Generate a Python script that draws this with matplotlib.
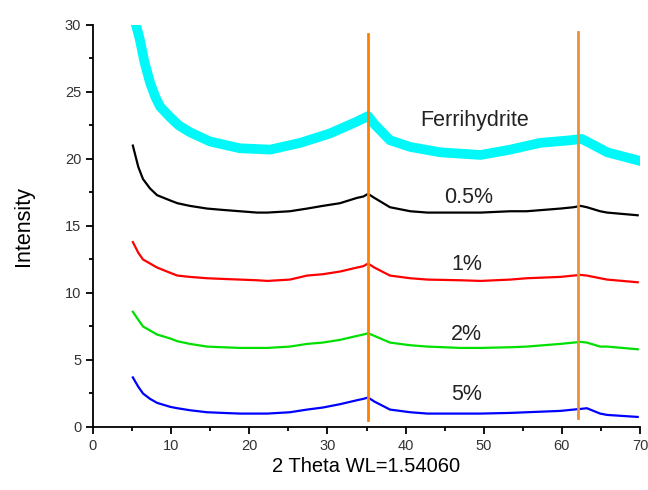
import numpy as np
import matplotlib
matplotlib.use("Agg")
import matplotlib.pyplot as plt
from matplotlib.ticker import MultipleLocator

plt.rcParams['font.family'] = ['Liberation Sans', 'DejaVu Sans']

# ---- datos (2 theta, intensidad)
theta_ferri = [5.5, 6.0, 6.6, 7.3, 8.0, 8.6, 9.9, 11.0, 12.4, 15.0, 18.8, 22.7, 26.5, 30.3,
               33.8, 35.2, 36.0, 38.0, 40.6, 44.4, 49.6, 53.4, 57.2, 61.1, 62.5, 63.2,
               65.8, 69.7]
ferri = [30.0, 28.9, 27.2, 25.7, 24.6, 23.9, 23.1, 22.5, 22.0, 21.3, 20.8, 20.7, 21.2, 21.9,
         22.8, 23.2, 22.6, 21.4, 20.9, 20.5, 20.3, 20.7, 21.2, 21.4, 21.5, 21.3,
         20.5, 19.9]

theta = [5.1, 5.8, 6.4, 7.3, 8.2, 9.9, 10.8, 12.4, 14.6, 16.6, 18.8, 21.0, 22.3, 25.2,
         27.4, 29.4, 31.6, 33.8, 34.6, 35.2, 36.0, 38.0, 40.6, 42.8, 47.0, 49.6,
         53.4, 55.5, 59.8, 61.5, 62.4, 63.2, 64.9, 65.8, 69.7]
p05 = [21.0, 19.4, 18.5, 17.8, 17.3, 16.9, 16.7, 16.5, 16.3, 16.2, 16.1, 16.0, 16.0, 16.1,
       16.3, 16.5, 16.7, 17.1, 17.2, 17.4, 17.1, 16.4, 16.1, 16.0, 16.0, 16.0,
       16.1, 16.1, 16.3, 16.4, 16.5, 16.4, 16.1, 16.0, 15.8]
p1 = [13.8, 13.0, 12.5, 12.2, 11.9, 11.5, 11.3, 11.2, 11.1, 11.05, 11.0, 10.95, 10.9, 11.0,
      11.3, 11.4, 11.6, 11.9, 12.0, 12.2, 11.9, 11.3, 11.1, 11.0, 10.95, 10.9,
      11.0, 11.1, 11.2, 11.3, 11.35, 11.3, 11.1, 11.0, 10.8]
p2 = [8.6, 8.0, 7.5, 7.2, 6.9, 6.6, 6.4, 6.2, 6.0, 5.95, 5.9, 5.9, 5.9, 6.0,
      6.2, 6.3, 6.5, 6.8, 6.9, 7.0, 6.8, 6.3, 6.1, 6.0, 5.9, 5.9,
      5.95, 6.0, 6.2, 6.3, 6.35, 6.3, 6.0, 6.0, 5.8]
p5 = [3.7, 3.0, 2.5, 2.1, 1.8, 1.5, 1.4, 1.25, 1.1, 1.05, 1.0, 1.0, 1.0, 1.1,
      1.3, 1.45, 1.7, 2.0, 2.1, 2.2, 1.9, 1.3, 1.1, 1.0, 1.0, 1.0,
      1.05, 1.1, 1.2, 1.3, 1.35, 1.4, 1.0, 0.9, 0.75]

picos = [35.2, 62.0]
etiquetas = ['Ferrihydrite', '0.5%', '1%', '2%', '5%']
pos_etiquetas = [(48.8, 22.9), (48.1, 17.1), (47.8, 12.1), (47.8, 6.9), (47.8, 2.4)]

fig = plt.figure(figsize=(6.48, 4.9), dpi=100)
ax = fig.add_axes([0.1435, 0.1286, 0.8442, 0.8204])

ax.plot(theta_ferri, ferri, color='#00f8f8', lw=7, solid_joinstyle='round')
ax.plot(theta, p05, color='black', lw=1.6)
ax.plot(theta, p1, color='#ff0000', lw=1.6)
ax.plot(theta, p2, color='#00e000', lw=1.6)
ax.plot(theta, p5, color='#0000ff', lw=1.6)

# lineas de referencia de los picos
ax.plot([picos[0], picos[0]], [0.5, 29.3], color='#ff7f00', lw=2)
ax.plot([picos[1], picos[1]], [0.7, 29.5], color='#e8913a', lw=2)

for t, (xt, yt) in zip(etiquetas, pos_etiquetas):
    ax.text(xt, yt, t, ha='center', va='center', fontsize=15.5, color='#222222')

ax.set_xlim(0, 70)
ax.set_ylim(0, 30)
ax.spines['top'].set_visible(False)
ax.spines['right'].set_visible(False)
ax.spines['left'].set_linewidth(1.3)
ax.spines['bottom'].set_linewidth(1.3)
ax.xaxis.set_major_locator(MultipleLocator(10))
ax.xaxis.set_minor_locator(MultipleLocator(5))
ax.yaxis.set_major_locator(MultipleLocator(5))
ax.yaxis.set_minor_locator(MultipleLocator(2.5))
ax.tick_params(which='major', length=5, width=1.3, labelsize=10.5, labelcolor='#333333')
ax.tick_params(which='minor', length=3, width=1.3)
ax.set_xlabel('2 Theta WL=1.54060', fontsize=14.5, labelpad=3)
ax.set_ylabel('Intensity', fontsize=15.5, labelpad=22)

fig.savefig('out.png', dpi=100)
